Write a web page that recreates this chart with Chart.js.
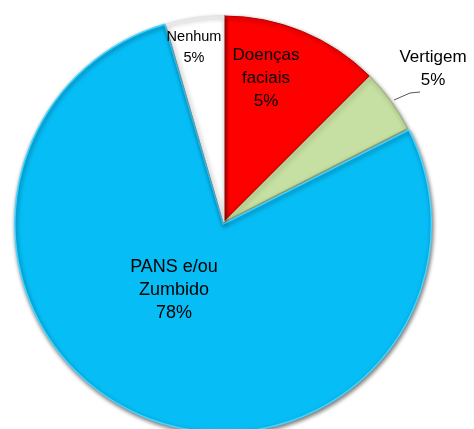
<!DOCTYPE html>
<html>
<head>
<meta charset="utf-8">
<script src="https://cdn.jsdelivr.net/npm/chart.js@4/dist/chart.umd.min.js"></script>
<style>
  html, body { margin: 0; padding: 0; background: #fff; }
  #wrap { width: 474px; height: 429px; }
</style>
</head>
<body>
<div id="wrap"><canvas id="pie" width="474" height="429"></canvas></div>
<script>
// categorias e valores (tamanho das fatias)
const categories = ['Doenças faciais', 'Vertigem', 'PANS e/ou Zumbido', 'Nenhum'];
const sliceValues = [12.5, 5, 78, 4.5];
// texto das percentagens como aparece no gráfico
const percentText = ['5%', '5%', '78%', '5%'];
const labelLines = [['Doenças', 'faciais'], ['Vertigem'], ['PANS e/ou', 'Zumbido'], ['Nenhum']];

const fillColors = ['#fe0000', '#c6dfa2', '#07bdf6', '#ffffff'];
const edgeColors = ['#b80000', '#93b06c', '#45d4ff', '#e4e4e4'];

// rótulos desenhados à mão (posição relativa ao centro da pizza)
const labelPlugin = {
  id: 'pieLabels',
  afterDatasetsDraw(chart) {
    const ctx = chart.ctx;
    const arcs = chart.getDatasetMeta(0).data;
    const cx = arcs[0].x, cy = arcs[0].y;
    const place = [
      { dx: 42, dy: -167, size: 17, lh: 23 },
      { dx: 209, dy: -165, size: 17, lh: 23 },
      { dx: -50, dy: 45, size: 18, lh: 23 },
      { dx: -30, dy: -185, size: 14.5, lh: 21 }
    ];
    ctx.save();
    ctx.fillStyle = '#000';
    ctx.textAlign = 'center';
    ctx.textBaseline = 'middle';
    labelLines.forEach((lines, i) => {
      const p = place[i];
      ctx.font = p.size + 'px "Liberation Sans", Arial, sans-serif';
      const all = lines.concat([percentText[i]]);
      all.forEach((t, k) => {
        ctx.fillText(t, cx + p.dx, cy + p.dy + k * p.lh);
      });
    });
    // linha de chamada da Vertigem
    ctx.strokeStyle = '#555';
    ctx.lineWidth = 1;
    ctx.beginPath();
    ctx.moveTo(cx + 170, cy - 122);
    ctx.lineTo(cx + 186, cy - 129);
    ctx.lineTo(cx + 196, cy - 130);
    ctx.stroke();
    ctx.restore();
  }
};

// sombra leve nas fatias
const shadowPlugin = {
  id: 'sliceShadow',
  beforeDatasetsDraw(chart) {
    const ctx = chart.ctx;
    ctx.save();
    ctx.shadowColor = 'rgba(0,0,0,0.55)';
    ctx.shadowBlur = 4;
    ctx.shadowOffsetX = 1;
    ctx.shadowOffsetY = 2;
  },
  afterDatasetsDraw(chart) {
    chart.ctx.restore();
  }
};

new Chart(document.getElementById('pie'), {
  type: 'pie',
  data: {
    labels: categories,
    datasets: [{
      data: sliceValues,
      backgroundColor: fillColors,
      borderColor: edgeColors,
      borderWidth: [1, 1, 1.5, 1],
      offset: [0, 0, 9, 0]
    }]
  },
  options: {
    responsive: false,
    animation: false,
    radius: 206,
    layout: { padding: { left: 0, right: 26, top: 15, bottom: 0 } },
    plugins: {
      legend: { display: false },
      tooltip: { enabled: false }
    }
  },
  plugins: [shadowPlugin, labelPlugin]
});
</script>
</body>
</html>
